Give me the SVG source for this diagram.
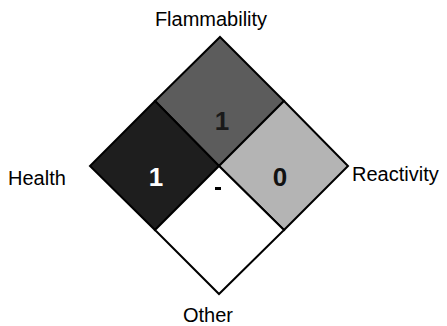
<svg xmlns="http://www.w3.org/2000/svg" width="447" height="326" viewBox="0 0 447 326">
<defs>
<style>
.lbl{font-family:"Liberation Sans",Arial,sans-serif;font-size:20px;fill:#000}
.num{font-family:"Liberation Sans",Arial,sans-serif;font-size:26px;font-weight:bold;text-anchor:middle}
.cell{stroke:#000;stroke-width:2;stroke-linejoin:miter}
</style>
</defs>
<rect width="447" height="326" fill="#fff"/>
<g id="flammability">
<polygon class="cell" points="220,37 284,101 219,166 155,101" fill="#5c5c5c"/>
<text class="num" x="222" y="130" fill="#1a1a1a">1</text>
<text class="lbl" x="211" y="26" text-anchor="middle">Flammability</text>
</g>
<g id="health">
<polygon class="cell" points="155,101 219,166 155,230 90,166" fill="#1e1e1e"/>
<text class="num" x="156" y="186" fill="#fff">1</text>
<text class="lbl" x="8" y="185">Health</text>
</g>
<g id="reactivity">
<polygon class="cell" points="284,101 348,166 284,230 219,166" fill="#b4b4b4"/>
<text class="num" x="280" y="186" fill="#111">0</text>
<text class="lbl" x="352" y="181">Reactivity</text>
</g>
<g id="other">
<polygon class="cell" points="219,166 284,230 219,294 155,230" fill="#fff"/>
<rect x="215" y="187" width="6" height="3" fill="#000"/>
<text class="lbl" x="208" y="322" text-anchor="middle">Other</text>
</g>
<g id="connectors"/>
</svg>
